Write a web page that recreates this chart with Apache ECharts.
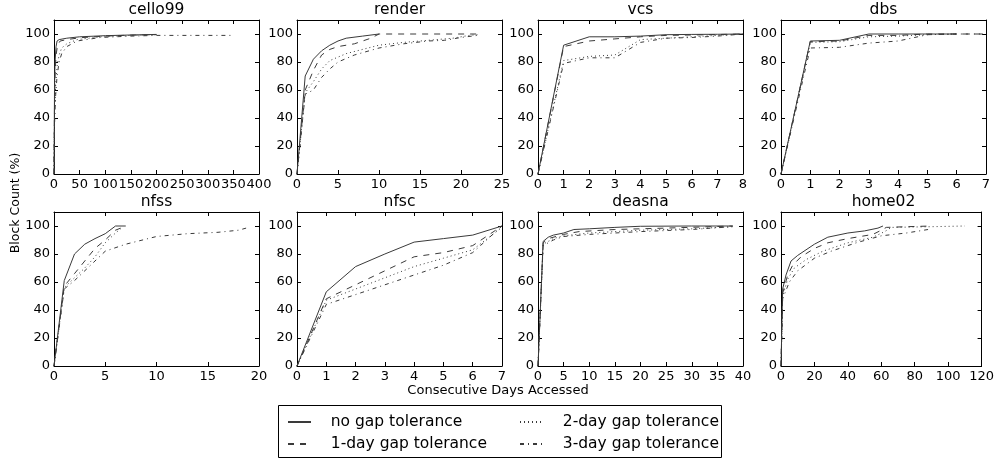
<!DOCTYPE html>
<html>
<head>
<meta charset="utf-8">
<script src="https://cdn.jsdelivr.net/npm/echarts@6/dist/echarts.min.js"></script>
<style>html,body{margin:0;padding:0;background:#fff}#c{width:997px;height:459px}</style>
</head>
<body>
<div id="c"></div>
<script>
// ---- data ----
const seriesNames = ['no gap tolerance', '1-day gap tolerance', '2-day gap tolerance', '3-day gap tolerance'];
const panelTitles = ['cello99', 'render', 'vcs', 'dbs', 'nfss', 'nfsc', 'deasna', 'home02'];
const xMaxes = [400, 25, 8, 7, 20, 7, 40, 120];
const xIntervals = [50, 5, 1, 1, 5, 1, 5, 20];
const yMax = 110, yInterval = 20;

const cello99NoGap = [[0,0],[1,60],[2,80],[4,91],[6,95],[10,96],[25,97],[50,98],[100,98.8],[150,99.3],[200,99.7]];
const cello99OneDay = [[0,0],[1,50],[2,70],[4,85],[7,92],[12,95],[25,96],[50,97.3],[100,98.5],[150,99.2],[200,99.5]];
const cello99TwoDay = [[0,0],[1,40],[3,62],[6,77],[10,85],[15,90],[25,93],[45,96],[90,98],[150,99],[200,99.5]];
const cello99ThreeDay = [[0,0],[1,35],[3,55],[6,70],[10,80],[15,86],[25,91],[45,95],[90,97.5],[150,98.5],[200,99],[275,99],[350,99]];

const renderNoGap = [[0,0],[1,70],[2,82],[3,88],[4,92],[5,95],[6,97],[8,98.5],[10,100]];
const renderOneDay = [[0,0],[1,60],[2,74],[3,85],[4,89],[5,91],[7,93],[9,97],[10,100],[16,100],[22,100]];
const renderTwoDay = [[0,0],[1,58],[2,66],[3,75],[4,81],[6,86],[8,89],[10,92],[13,94],[16,95.5],[19,97],[21,99],[22,99.5]];
const renderThreeDay = [[0,0],[1,57],[2,60],[3,69],[4,75],[5,80],[7,85],[10,90],[13,93],[16,95],[18,95.5],[20,97.5],[22,99]];

const vcsNoGap = [[0,0],[1,92],[2,98],[3,98],[4,98.5],[5,99.5],[6,99.7],[7,99.8],[8,100]];
const vcsOneDay = [[0,0],[1,91],[2,95],[3,96.5],[4,98],[5,99],[6,99.3],[7,99.6],[8,100]];
const vcsTwoDay = [[0,0],[1,81],[2,84],[3,85],[4,96],[5,97],[6,98],[7,99],[8,100]];
const vcsThreeDay = [[0,0],[1,79],[2,83],[3,83],[4,94],[5,97],[6,97.5],[7,98.5],[8,100]];

const dbsNoGap = [[0,0],[1,95],[2,95.5],[3,100],[4,100],[5,100],[6,100]];
const dbsOneDay = [[0,0],[1,94.5],[2,95],[3,99],[4,99],[5,100],[6,100],[7,100]];
const dbsTwoDay = [[0,0],[1,94],[2,94.5],[3,98],[4,98.5],[5,99.5],[6,100]];
const dbsThreeDay = [[0,0],[1,90],[2,90.5],[3,93.5],[4,95],[5,99.5],[6,100],[7,100]];

const nfssNoGap = [[0,0],[1,61],[2,80],[3,87],[4,91],[5,94.5],[6,100],[7,100]];
const nfssOneDay = [[0,0],[1,57],[2,66],[3,75],[4,84],[5,90],[6,97],[7,100]];
const nfssTwoDay = [[0,0],[1,56],[2,63],[3,70],[4,78],[5,88],[6,95],[6.5,98]];
const nfssThreeDay = [[0,0],[1,55],[2,61],[3,68],[5,82],[7,87],[10,92.5],[13,94.5],[16,95.5],[18,97],[19,99]];

const nfscNoGap = [[0,0],[1,53],[2,71],[3,80],[4,88.5],[5,91],[6,93.5],[7,100]];
const nfscOneDay = [[0,0],[1,48],[2,58],[3,68],[4,78],[5,81],[6,86],[7,100]];
const nfscTwoDay = [[0,0],[1,47],[2,55],[3,63],[4,71],[5,77],[6,83],[7,99]];
const nfscThreeDay = [[0,0],[1,44],[2,51],[3,58],[4,65],[5,72],[6,81],[7,100]];

const deasnaNoGap = [[0,0],[1,89],[2,92],[3,93.5],[5,95],[7,97.5],[10,98],[15,99],[20,99.8],[30,100],[38,100]];
const deasnaOneDay = [[0,0],[1,88],[2,91],[5,94],[8,96],[15,97.5],[25,98.5],[38,100]];
const deasnaTwoDay = [[0,0],[1,87],[3,91],[5,93],[10,95],[20,97],[30,98],[38,99.5]];
const deasnaThreeDay = [[0,0],[1,86],[3,90],[5,92.5],[10,94],[20,96],[30,97.5],[38,99.5]];

const home02NoGap = [[0,0],[1,55],[3,65],[6,75],[10,79],[20,87],[28,92],[40,95],[50,96.5],[58,98.5],[61,100]];
const home02OneDay = [[0,0],[1,52],[4,65],[7,72],[12,78],[20,84],[28,88],[40,91],[55,94],[60,97],[63,99],[75,99.5],[90,100]];
const home02TwoDay = [[0,0],[1,50],[4,62],[8,70],[15,76],[25,82],[40,88],[55,92],[62,96],[66,99],[90,99.5],[110,100]];
const home02ThreeDay = [[0,0],[1,48],[5,60],[10,68],[20,77],[30,82],[45,88],[60,93],[75,95],[88,97.5]];

const panelData = [
  [cello99NoGap, cello99OneDay, cello99TwoDay, cello99ThreeDay],
  [renderNoGap, renderOneDay, renderTwoDay, renderThreeDay],
  [vcsNoGap, vcsOneDay, vcsTwoDay, vcsThreeDay],
  [dbsNoGap, dbsOneDay, dbsTwoDay, dbsThreeDay],
  [nfssNoGap, nfssOneDay, nfssTwoDay, nfssThreeDay],
  [nfscNoGap, nfscOneDay, nfscTwoDay, nfscThreeDay],
  [deasnaNoGap, deasnaOneDay, deasnaTwoDay, deasnaThreeDay],
  [home02NoGap, home02OneDay, home02TwoDay, home02ThreeDay]
];

// ---- layout / style ----
const FONT = 'DejaVu Sans';
const lefts = [54, 297, 538, 781];
const tops = [20, 212];
const W = 205, H = 154;
const lineTypes = ['solid', [6, 6], [1, 3], [4, 4, 1, 4]];
const lineColor = '#3a3a3a';

const grids = [], xAxes = [], yAxes = [], series = [], graphics = [];
panelTitles.forEach((t, i) => {
  const col = i % 4, row = Math.floor(i / 4);
  grids.push({ left: lefts[col], top: tops[row], width: W, height: H, containLabel: false });
  const axLine = { show: true, onZero: false, lineStyle: { color: '#000', width: 1 } };
  const tick = { show: true, inside: true, length: 4, lineStyle: { color: '#000', width: 1 } };
  xAxes.push({
    type: 'value', gridIndex: i, position: 'bottom', min: 0, max: xMaxes[i], interval: xIntervals[i],
    axisLine: axLine, axisTick: tick, splitLine: { show: false },
    axisLabel: { show: true, margin: 4, fontFamily: FONT, fontSize: 13, color: '#000' }
  });
  xAxes.push({
    type: 'value', gridIndex: i, position: 'top', min: 0, max: xMaxes[i], interval: xIntervals[i],
    axisLine: axLine, axisTick: tick, splitLine: { show: false }, axisLabel: { show: false }
  });
  yAxes.push({
    type: 'value', gridIndex: i, position: 'left', min: 0, max: yMax, interval: yInterval,
    axisLine: axLine, axisTick: tick, splitLine: { show: false },
    axisLabel: { show: true, margin: 4, showMaxLabel: false, fontFamily: FONT, fontSize: 13, color: '#000' }
  });
  yAxes.push({
    type: 'value', gridIndex: i, position: 'right', min: 0, max: yMax, interval: yInterval,
    axisLine: axLine, axisTick: tick, splitLine: { show: false }, axisLabel: { show: false }
  });
  panelData[i].forEach((d, k) => {
    series.push({
      type: 'line', name: seriesNames[k], xAxisIndex: 2 * i, yAxisIndex: 2 * i,
      data: d, symbol: 'none', smooth: false, animation: false,
      lineStyle: { color: lineColor, width: 1, type: lineTypes[k] },
      itemStyle: { color: lineColor }
    });
  });
  graphics.push({
    type: 'text', x: lefts[col] + W / 2, y: row === 0 ? 10 : 202,
    style: { text: t, font: '15.5px "' + FONT + '"', fill: '#000', textAlign: 'center', textVerticalAlign: 'middle' }
  });
});

graphics.push({
  type: 'text', x: 498, y: 391,
  style: { text: 'Consecutive Days Accessed', font: '13px "' + FONT + '"', fill: '#000', textAlign: 'center', textVerticalAlign: 'middle' }
});
graphics.push({
  type: 'text', x: 16, y: 203, rotation: Math.PI / 2,
  style: { text: 'Block Count (%)', font: '12.5px "' + FONT + '"', fill: '#000', textAlign: 'center', textVerticalAlign: 'middle' }
});
graphics.push({
  type: 'rect', shape: { x: 278.5, y: 405.5, width: 443, height: 52 },
  style: { fill: 'none', stroke: '#000', lineWidth: 1 }, z: 100
});

const legendBase = {
  orient: 'vertical', top: 414, padding: 0, itemWidth: 23, itemHeight: 14, itemGap: 6,
  selectedMode: false,
  itemStyle: { opacity: 0 },
  formatter: n => '   ' + n,
  textStyle: { fontFamily: FONT, fontSize: 15.5, color: '#000', lineHeight: 15 }
};

const option = {
  animation: false,
  backgroundColor: '#fff',
  grid: grids,
  xAxis: xAxes,
  yAxis: yAxes,
  legend: [
    Object.assign({}, legendBase, { left: 287, data: [seriesNames[0], seriesNames[1]] }),
    Object.assign({}, legendBase, { left: 519, data: [seriesNames[2], seriesNames[3]] })
  ],
  graphic: graphics,
  series: series
};

const chart = echarts.init(document.getElementById('c'), null, { renderer: 'canvas' });
chart.setOption(option);
</script>
</body>
</html>
